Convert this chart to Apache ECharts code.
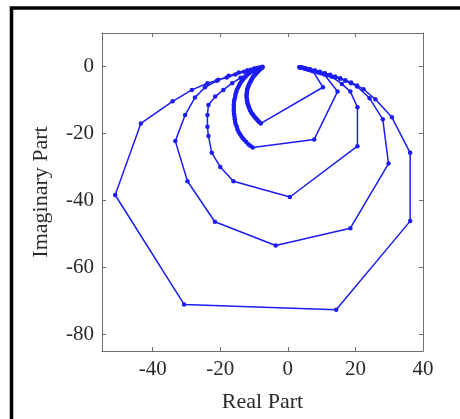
<!DOCTYPE html>
<html>
<head>
<meta charset="utf-8">
<script src="https://cdn.jsdelivr.net/npm/echarts@6/dist/echarts.min.js"></script>
<style>
  html, body { margin: 0; padding: 0; background: #fff; }
  #chart { width: 460px; height: 419px; }
</style>
</head>
<body>
<div id="chart"></div>
<script>
// tick labels
var xTicks = [-40, -20, 0, 20, 40];
var yTicks = [-80, -60, -40, -20, 0];

// five curves (real, imaginary)
var curveA = [[3.5,-0.2],[4.2,-0.4],[5,-0.6],[5.8,-0.9],[6.6,-1.1],[7.4,-1.4],[10.4,-6.2],[-8,-17],
  [-8.4,-16.7],[-8.7,-16.4],[-9,-16],[-9.3,-15.7],[-9.6,-15.3],[-9.9,-15],[-10.2,-14.6],[-10.5,-14.2],
  [-10.8,-13.8],[-11,-13.4],[-11.2,-13],[-11.4,-12.5],[-11.6,-12],[-11.7,-11.6],[-11.9,-11.1],[-12,-10.6],
  [-12.1,-10.1],[-12.1,-9.7],[-12.2,-9.2],[-12.2,-8.7],[-12.2,-8.2],[-12.1,-7.8],[-12.1,-7.3],[-12,-6.9],
  [-11.9,-6.4],[-11.7,-6],[-11.6,-5.6],[-11.4,-5.2],[-11.2,-4.8],[-11,-4.4],[-10.8,-4],[-10.6,-3.7],
  [-10.4,-3.3],[-10.2,-3],[-9.9,-2.7],[-9.7,-2.4],[-9.4,-2.1],[-9.2,-1.9],[-9,-1.6],[-8.8,-1.4],
  [-8.6,-1.2],[-8.4,-1],[-8.2,-0.8],[-8,-0.6],[-7.7,-0.4],[-7.5,-0.2]];
var curveB = [[3.5,-0.2],[4.2,-0.4],[5,-0.6],[5.9,-0.8],[6.8,-1.1],[7.8,-1.4],[8.8,-1.7],[9.8,-2],[10.8,-2.4],
  [14.7,-7.5],[7.8,-21.8],[-10.4,-24.2],[-11.1,-23.7],[-11.7,-23.2],[-12.3,-22.6],[-12.9,-22],[-13.4,-21.4],
  [-13.8,-20.8],[-14.2,-20.2],[-14.6,-19.5],[-14.9,-18.8],[-15.1,-18],[-15.4,-17.3],[-15.6,-16.5],[-15.7,-15.8],
  [-15.8,-15],[-15.9,-14.3],[-16,-13.5],[-16,-12.8],[-16,-12],[-16,-11.3],[-15.9,-10.5],[-15.8,-9.8],
  [-15.6,-9.1],[-15.5,-8.4],[-15.3,-7.7],[-15.1,-7],[-14.8,-6.4],[-14.5,-5.8],[-14.2,-5.2],[-13.9,-4.7],
  [-13.5,-4.2],[-13.1,-3.7],[-12.7,-3.2],[-12.3,-2.8],[-11.9,-2.4],[-11.5,-2],[-11,-1.7],[-10.6,-1.4],
  [-10.1,-1.2],[-9.7,-1],[-9.3,-0.8],[-8.9,-0.6],[-8.5,-0.5],[-7.8,-0.3]];
var curveC = [[3.5,-0.2],[4.5,-0.4],[5.5,-0.7],[6.7,-1],[8,-1.4],[9.2,-1.8],[10.5,-2.2],[11.7,-2.6],[13,-3.1],
  [16,-5.2],[18.5,-7.5],[20.6,-12.2],[20.6,-23.8],[0.6,-39],[-16.1,-34.3],[-20,-30],[-22.5,-25.8],[-23.5,-20.8],
  [-23.8,-18],[-23.8,-14.5],[-23.5,-11.5],[-21.5,-9],[-19.1,-7],[-16.5,-5],[-14,-3.4],[-12,-2.2],[-10.2,-1.3],
  [-8.8,-0.7],[-7.7,-0.3]];
var curveD = [[3.5,-0.2],[5,-0.5],[6.5,-0.9],[8,-1.3],[9.5,-1.7],[11,-2.2],[12.5,-2.7],[14,-3.2],[15.5,-3.7],
  [17,-4.3],[18.7,-5],[20.5,-6],[24.2,-9.5],[28.1,-15.8],[29.8,-29],[18.5,-48.3],[-3.6,-53.5],[-21.6,-46.4],
  [-29.7,-34.3],[-33.3,-22.3],[-30.4,-14.5],[-27.5,-9.3],[-24.5,-6.2],[-21,-4.3],[-17.5,-2.8],[-14.5,-1.8],
  [-12,-1.1],[-10,-0.6],[-8.5,-0.3],[-7.5,-0.1]];
var curveE = [[3.5,-0.2],[5,-0.5],[6.5,-0.8],[8,-1.2],[9.5,-1.6],[11,-2],[12.5,-2.5],[14,-3],[15.5,-3.5],
  [17,-4.1],[18.7,-4.8],[20.5,-5.7],[22.4,-6.8],[25.9,-9.8],[30.8,-15.2],[36.2,-25.8],[36.2,-46.2],
  [14.3,-72.7],[-30.7,-71.1],[-51.1,-38.4],[-43.5,-17],[-34.1,-10.4],[-28.4,-7],[-23.8,-5],[-20.6,-4],
  [-18.1,-3.3],[-15.5,-2.4],[-13,-1.6],[-11,-1],[-9.3,-0.5],[-7.8,-0.2]];

var curves = [curveA, curveB, curveC, curveD, curveE];

var blue = '#1c1cf5';
var font = '"Liberation Serif", "DejaVu Serif", serif';
var axisGray = '#6e6e6e';

function boxAxis(pos, main, ticks, extra) {
    var a = {
        type: 'value',
        position: pos,
        axisLine: { show: true, onZero: false, lineStyle: { color: axisGray, width: 1 } },
        axisTick: { show: true, inside: true, length: 4, customValues: ticks, lineStyle: { color: axisGray } },
        axisLabel: { show: main, customValues: ticks, color: '#2a2a2a', fontFamily: font, fontSize: 21 },
        splitLine: { show: false }
    };
    for (var k in extra) a[k] = extra[k];
    return a;
}

var series = curves.map(function (c) {
    return {
        type: 'line',
        data: c,
        symbol: 'circle',
        symbolSize: 4.5,
        showSymbol: true,
        animation: false,
        lineStyle: { color: blue, width: 1.5 },
        itemStyle: { color: blue }
    };
});

var myChart = echarts.init(document.getElementById('chart'));
var option = {
    animation: false,
    backgroundColor: '#fff',
    grid: { left: 102, top: 33, right: 37, bottom: 68 },
    xAxis: [
        boxAxis('bottom', true, xTicks, {
            min: -55, max: 40,
            name: 'Real Part', nameLocation: 'middle', nameGap: 40,
            nameTextStyle: { color: '#2a2a2a', fontFamily: font, fontSize: 22 }
        }),
        boxAxis('top', false, xTicks, { min: -55, max: 40 })
    ],
    yAxis: [
        boxAxis('left', true, yTicks, {
            min: -85, max: 10,
            name: 'Imaginary Part', nameLocation: 'middle', nameGap: 50,
            nameTextStyle: { color: '#2a2a2a', fontFamily: font, fontSize: 22 }
        }),
        boxAxis('right', false, yTicks, { min: -85, max: 10 })
    ],
    graphic: [{
        type: 'rect',
        shape: { x: 11.5, y: 8, width: 600, height: 600 },
        style: { fill: null, stroke: '#000', lineWidth: 3.5 }
    }],
    series: series
};
myChart.setOption(option);
</script>
</body>
</html>
